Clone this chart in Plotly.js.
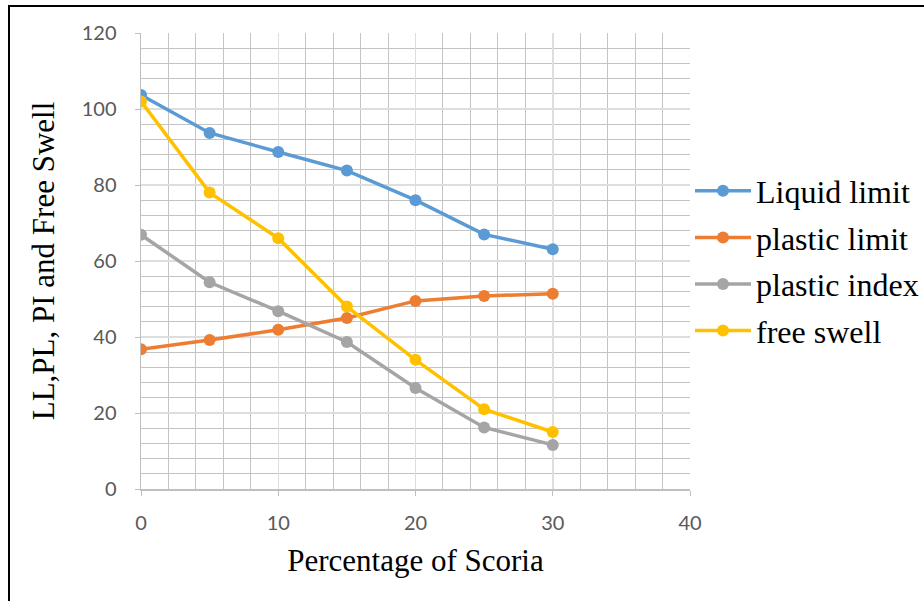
<!DOCTYPE html>
<html>
<head>
<meta charset="utf-8">
<script src="https://cdn.plot.ly/plotly-3.0.1.min.js"></script>
<style>
  html, body { margin: 0; padding: 0; background: #fff; overflow: hidden; }
  #wrap { position: relative; width: 924px; height: 601px; overflow: hidden; }
  #chart { position: absolute; left: 0; top: 0; width: 924px; height: 601px; }
  #frame { position: absolute; left: 8px; top: 5px; width: 920px; height: 600px; border-top: 2px solid #000; border-left: 2px solid #000; pointer-events: none; box-sizing: border-box; }
</style>
</head>
<body>
<div id="wrap">
  <div id="chart"></div>
  <div id="frame"></div>
</div>
<script>
const scoria = [0, 5, 10, 15, 20, 25, 30];
const liquidLimit = [103.7, 93.7, 88.7, 83.8, 76, 67, 63.1];
const plasticLimit = [36.8, 39.2, 41.9, 45, 49.5, 50.8, 51.4];
const plasticIndex = [66.9, 54.4, 46.8, 38.7, 26.6, 16.2, 11.6];
const freeSwell = [102, 78, 66, 48, 34, 21, 15];
const seriesNames = ["Liquid limit", "plastic limit", "plastic index", "free swell"];
const seriesColors = ["#5b9bd5", "#ed7d31", "#a5a5a5", "#ffc000"];
const seriesValues = [liquidLimit, plasticLimit, plasticIndex, freeSwell];
const xTicks = [0, 10, 20, 30, 40];
const yTicks = [0, 20, 40, 60, 80, 100, 120];

const traces = seriesValues.map((vals, i) => ({
  x: scoria,
  y: vals,
  name: seriesNames[i],
  legendgroup: "g" + i,
  type: "scatter",
  mode: "lines+markers",
  line: { color: seriesColors[i], width: 3.5 },
  marker: { color: seriesColors[i], size: 12 }
}));

const serif = "Liberation Serif, Times New Roman, serif";
const sans = "Lato, Open Sans, sans-serif";

const layout = {
  width: 924,
  height: 601,
  margin: { l: 141, r: 234, t: 33, b: 112, autoexpand: false },
  paper_bgcolor: "#ffffff",
  plot_bgcolor: "#ffffff",
  showlegend: true,
  legend: {
    x: 1.0, xanchor: "left", y: 0.5, yanchor: "middle",
    font: { family: serif, size: 32, color: "#000" },
    tracegroupgap: 2,
    itemwidth: 56,
    bgcolor: "rgba(0,0,0,0)"
  },
  xaxis: {
    range: [0, 40],
    tickvals: xTicks,
    ticks: "outside", ticklen: 5, tickcolor: "#bfbfbf",
    ticklabelstandoff: 10,
    showline: true, linecolor: "#bfbfbf", linewidth: 1.5,
    showgrid: true, gridcolor: "#dedede", gridwidth: 1.5,
    minor: { dtick: 2, showgrid: true, gridcolor: "#c4c4c4", gridwidth: 1, ticks: "" },
    zeroline: false,
    tickfont: { family: sans, size: 20, color: "#595959" },
    title: { text: "Percentage of Scoria", font: { family: serif, size: 31, color: "#000" }, standoff: 17 }
  },
  yaxis: {
    range: [0, 120],
    tickvals: yTicks,
    ticks: "outside", ticklen: 5, tickcolor: "#bfbfbf",
    ticklabelstandoff: 14,
    showline: true, linecolor: "#bfbfbf", linewidth: 1.5,
    showgrid: true, gridcolor: "#dedede", gridwidth: 1.5,
    minor: { dtick: 4, showgrid: true, gridcolor: "#c4c4c4", gridwidth: 1, ticks: "" },
    zeroline: false,
    tickfont: { family: sans, size: 20, color: "#595959" },
    title: { text: "LL,PL, PI and Free Swell", font: { family: serif, size: 31, color: "#000" }, standoff: 18 }
  }
};

Plotly.newPlot("chart", traces, layout, { displayModeBar: false, staticPlot: true });
</script>
</body>
</html>
